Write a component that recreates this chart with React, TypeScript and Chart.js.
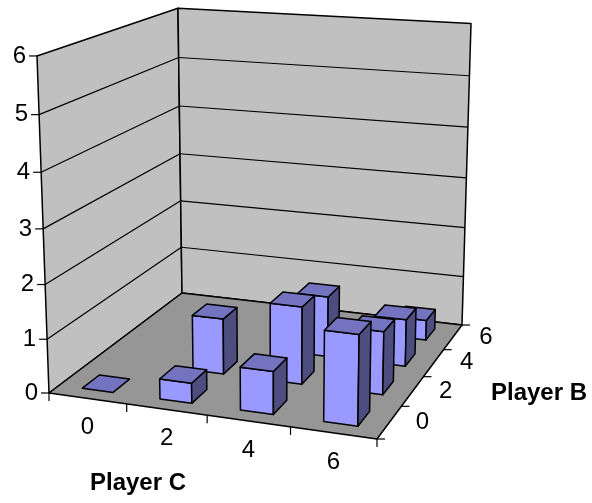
import React, { useEffect, useRef } from "react";
import { Chart, registerables, BarController } from "chart.js";

Chart.register(...registerables);

// Axis categories and ticks
const playerC = ["0", "2", "4", "6"];
const playerB = ["0", "2", "4", "6"];
const valueTicks = [0, 1, 2, 3, 4, 5, 6];

// One series per Player B category, one value per Player C category
const seriesB0 = [0, 0.37, 0.78, 1.62];
const seriesB2 = [null, 1.05, 1.45, 1.17];
const seriesB4 = [null, null, 1.17, 0.9];
const seriesB6 = [null, null, null, 0.4];

// Camera: maps (u, v, w) in the unit cube to homogeneous canvas coordinates
const CAMERA = [
  [302.05, 168, -13.89, 49],
  [15.8, -43.65, -339.9, 393],
  [-0.0688, 0.1923, -0.051, 1],
];

const FOOT_U = 0.4;
const FOOT_V = 0.46;
const COLORS = { front: "#9999FF", top: "#7373BF", side: "#4D4D80", wall: "#C0C0C0", floor: "#969696", ink: "#000000" };
const FONT = '"Liberation Sans", Arial, sans-serif';

type Pt = [number, number];

function project(u: number, v: number, w: number): Pt {
  const [a, b, c] = CAMERA;
  const d = c[0] * u + c[1] * v + c[2] * w + c[3];
  return [
    (a[0] * u + a[1] * v + a[2] * w + a[3]) / d,
    (b[0] * u + b[1] * v + b[2] * w + b[3]) / d,
  ];
}

function face(ctx: CanvasRenderingContext2D, pts: Pt[], fill: string | null, lineWidth = 1.5) {
  ctx.beginPath();
  pts.forEach((p, i) => (i ? ctx.lineTo(p[0], p[1]) : ctx.moveTo(p[0], p[1])));
  ctx.closePath();
  if (fill) {
    ctx.fillStyle = fill;
    ctx.fill();
  }
  ctx.lineWidth = lineWidth;
  ctx.strokeStyle = COLORS.ink;
  ctx.lineJoin = "round";
  ctx.stroke();
}

function line(ctx: CanvasRenderingContext2D, p: Pt, q: Pt, lineWidth = 1.2) {
  ctx.beginPath();
  ctx.moveTo(p[0], p[1]);
  ctx.lineTo(q[0], q[1]);
  ctx.lineWidth = lineWidth;
  ctx.strokeStyle = COLORS.ink;
  ctx.stroke();
}

// Unit-cube coordinates read back from the chart's hidden scales
const fraction = (scale: any, value: number) => (scale.getPixelForValue(value) - scale.left) / scale.width;
const height = (scale: any, value: number) => (scale.bottom - scale.getPixelForValue(value)) / scale.height;

// Bar chart whose bars are drawn as boxes standing on the perspective floor
class Box3DController extends BarController {
  static id = "box3d";
  static defaults = {};
  static overrides = BarController.overrides;

  draw() {
    const chart: any = this.chart;
    const ctx: CanvasRenderingContext2D = chart.ctx;
    const { x, y, b } = chart.scales;
    const values = this.getDataset().data as (number | null)[];
    const vc = fraction(b, this.index);
    const du = (FOOT_U / playerC.length) / 2;
    const dv = (FOOT_V / playerB.length) / 2;
    values.forEach((value, i) => {
      if (value === null) return;
      const uc = fraction(x, i);
      const u0 = uc - du, u1 = uc + du, v0 = vc - dv, v1 = vc + dv;
      const h = height(y, value);
      if (h > 0) {
        face(ctx, [project(u0, v0, 0), project(u1, v0, 0), project(u1, v0, h), project(u0, v0, h)], COLORS.front);
        face(ctx, [project(u1, v0, 0), project(u1, v1, 0), project(u1, v1, h), project(u1, v0, h)], COLORS.side);
      }
      face(ctx, [project(u0, v0, h), project(u1, v0, h), project(u1, v1, h), project(u0, v1, h)], COLORS.top);
    });
  }
}
Chart.register(Box3DController);

// Walls, floor, gridlines, ticks and axis text
const stage = {
  id: "stage",
  beforeDatasetsDraw(chart: any) {
    const ctx: CanvasRenderingContext2D = chart.ctx;
    const { x, y, b } = chart.scales;
    ctx.save();
    face(ctx, [project(0, 0, 0), project(0, 1, 0), project(0, 1, 1), project(0, 0, 1)], COLORS.wall);
    face(ctx, [project(0, 1, 0), project(1, 1, 0), project(1, 1, 1), project(0, 1, 1)], COLORS.wall);
    face(ctx, [project(0, 0, 0), project(1, 0, 0), project(1, 1, 0), project(0, 1, 0)], COLORS.floor);

    ctx.fillStyle = COLORS.ink;
    ctx.font = `24px ${FONT}`;
    ctx.textBaseline = "middle";

    ctx.textAlign = "right";
    valueTicks.forEach((t) => {
      const h = height(y, t);
      if (t > 0 && t < 6) {
        line(ctx, project(0, 0, h), project(0, 1, h));
        line(ctx, project(0, 1, h), project(1, 1, h));
      }
      const p = project(0, 0, h);
      line(ctx, p, [p[0] - 8, p[1]]);
      ctx.fillStyle = COLORS.ink;
      ctx.fillText(String(t), p[0] - 11, p[1]);
    });

    ctx.textAlign = "center";
    const cCount = playerC.length;
    for (let i = 0; i <= cCount; i++) {
      const p = project(i / cCount, 0, 0);
      line(ctx, p, [p[0], p[1] + 8]);
    }
    playerC.forEach((label, i) => {
      const p = project(fraction(x, i), 0, 0);
      ctx.fillText(label, p[0], p[1] + 29);
    });

    const bCount = playerB.length;
    for (let j = 0; j <= bCount; j++) {
      const p = project(1, j / bCount, 0);
      line(ctx, p, [p[0] + 8, p[1]]);
    }
    playerB.forEach((label, j) => {
      const p = project(1, fraction(b, j), 0);
      ctx.fillText(label, p[0] + 33, p[1]);
    });

    ctx.font = `bold 24px ${FONT}`;
    ctx.fillText("Player C", 138, 483);
    ctx.fillText("Player B", 539, 393);
    ctx.restore();
  },
};

export default function App() {
  const ref = useRef<HTMLCanvasElement>(null);
  useEffect(() => {
    document.body.style.margin = "0";
    const chart = new Chart(ref.current as HTMLCanvasElement, {
      type: "box3d" as any,
      data: {
        labels: playerC,
        datasets: [
          { label: "0", data: seriesB0 },
          { label: "2", data: seriesB2 },
          { label: "4", data: seriesB4 },
          { label: "6", data: seriesB6 },
        ] as any,
      },
      options: {
        animation: false,
        responsive: false,
        events: [],
        layout: { padding: 0 },
        plugins: { legend: { display: false }, tooltip: { enabled: false } },
        scales: {
          x: { type: "category", offset: true, display: false },
          b: { type: "category", axis: "x", labels: playerB, offset: true, display: false },
          y: { type: "linear", min: 0, max: 6, display: false },
        },
      } as any,
      plugins: [stage],
    });
    return () => chart.destroy();
  }, []);
  return <canvas ref={ref} width={592} height={503} style={{ display: "block" }} />;
}
